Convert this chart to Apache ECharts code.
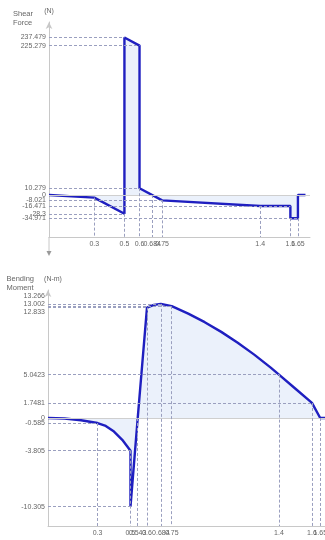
<!DOCTYPE html>
<html><head><meta charset="utf-8">
<script src="https://cdn.jsdelivr.net/npm/echarts@6/dist/echarts.min.js"></script>
<style>html,body{margin:0;padding:0;background:#fff}#c{width:325px;height:540px}</style>
</head><body><div id="c"></div>
<script>
// ---- Shear force data ----
const shearX = [0, 0.3, 0.5, 0.5, 0.6, 0.6, 0.75, 1.4, 1.6, 1.6, 1.65, 1.65, 1.7];
const shearV = [0, -3.9, -28.3, 237.479, 225.279, 10.279, -8.021, -16.471, -16.471, -34.971, -34.971, 0, 0];
const shearTickX = [0.3, 0.5, 0.6, 0.684, 0.75, 1.4, 1.6, 1.65];
const shearTickY = [237.479, 225.279, 10.279, 0, -8.021, -16.471, -28.3, -34.971];
const shearGuideH = [[237.479, 0.5], [225.279, 0.6], [10.279, 0.6], [-8.021, 0.75], [-16.471, 1.6], [-28.3, 0.5], [-34.971, 1.65]];
const shearGuideV = [[0.3, -3.9], [0.5, -28.3], [0.6, 10.279], [0.684, 0], [0.75, -8.021], [1.4, -16.471], [1.6, -34.971], [1.65, -34.971]];

// ---- Bending moment data ----
const momentX = [0, 0.1, 0.2, 0.3, 0.35, 0.4, 0.45, 0.5, 0.5, 0.543, 0.6, 0.642, 0.684, 0.75, 0.85, 0.95, 1.05, 1.15, 1.25, 1.35, 1.4, 1.5, 1.6, 1.65, 1.7];
const momentM = [0, -0.065, -0.26, -0.585, -0.93, -1.585, -2.54, -3.805, -10.305, -0.2, 12.833, 13.157, 13.266, 13.002, 12.135, 11.138, 10.011, 8.754, 7.366, 5.849, 5.0423, 3.395, 1.7481, 0, 0];
const momentTickX = [0.3, 0.5, 0.543, 0.6, 0.684, 0.75, 1.4, 1.6, 1.65];
const momentTickY = [13.266, 13.002, 12.833, 5.0423, 1.7481, 0, -0.585, -3.805, -10.305];
const momentGuideH = [[13.266, 0.684], [13.002, 0.75], [12.833, 0.6], [5.0423, 1.4], [1.7481, 1.6], [-0.585, 0.3], [-3.805, 0.5], [-10.305, 0.5]];
const momentGuideV = [[0.3, -0.585], [0.5, -3.805], [0.543, 0], [0.6, 12.833], [0.684, 13.266], [0.75, 13.002], [1.4, 5.0423], [1.6, 1.7481], [1.65, 0]];

const shearRange = { xMax: 1.73, yMin: -63.3, yMax: 260.9 };
const momentRange = { xMax: 1.679, yMin: -12.56, yMax: 14.88 };

const LABEL = '#666';
const AXIS = '#c8c8c8';
const GUIDE = '#9a9fbf';
const CURVE = '#1f1fc0';
const FILL = '#ebf1fb';
const FONT = 'Liberation Sans, Arial, sans-serif';

function pairs(xs, ys) { return xs.map((x, i) => [x, ys[i]]); }

function guideLines(hs, vs, yMin, xMax) {
  const d = [];
  d.push([{ coord: [0, 0], lineStyle: { type: 'solid', color: '#cfcfcf', width: 1 } }, { coord: [xMax, 0] }]);
  hs.forEach(h => d.push([{ coord: [0, h[0]] }, { coord: [h[1], h[0]] }]));
  vs.forEach(v => d.push([{ coord: [v[0], v[1]] }, { coord: [v[0], yMin] }]));
  return d;
}

// empty sentinel labels at the axis ends keep ECharts from hiding real end labels
function withEnds(vals, lo, hi) { return [lo].concat(vals, [hi]); }
function fmt(lo, hi) { return v => (v === lo || v === hi) ? '' : String(v); }

const momentLabelShift = { '13.266': 'a', '13.002': 'b', '12.833': 'c' };

const chart = echarts.init(document.getElementById('c'), null, { renderer: 'canvas' });
chart.setOption({
  animation: false,
  textStyle: { fontFamily: FONT },
  grid: [
    { left: 49, right: 325 - 49 - Math.round(shearRange.xMax * 150.6), top: 22, bottom: 540 - 237, outerBoundsMode: 'none', containLabel: false },
    { left: 48, right: 0, top: 290, bottom: 14, outerBoundsMode: 'none', containLabel: false }
  ],
  xAxis: [
    { gridIndex: 0, type: 'value', min: 0, max: shearRange.xMax,
      axisLine: { show: true, onZero: false, lineStyle: { color: AXIS } },
      axisTick: { show: false }, splitLine: { show: false },
      axisLabel: { customValues: withEnds(shearTickX, 0, shearRange.xMax), formatter: fmt(0, shearRange.xMax), fontSize: 7, color: LABEL, margin: 4, fontFamily: FONT, hideOverlap: false } },
    { gridIndex: 1, type: 'value', min: 0, max: momentRange.xMax,
      axisLine: { show: true, onZero: false, lineStyle: { color: AXIS } },
      axisTick: { show: false }, splitLine: { show: false },
      axisLabel: { customValues: withEnds(momentTickX, 0, momentRange.xMax), formatter: fmt(0, momentRange.xMax), fontSize: 7, color: LABEL, margin: 4, fontFamily: FONT, hideOverlap: false } }
  ],
  yAxis: [
    { gridIndex: 0, type: 'value', min: shearRange.yMin, max: shearRange.yMax,
      name: '(N)', nameLocation: 'end', nameGap: 7,
      nameTextStyle: { fontSize: 7, color: LABEL, fontFamily: FONT },
      axisLine: { show: true, onZero: false, lineStyle: { color: AXIS }, symbol: ['none', 'arrow'], symbolSize: [5, 7] },
      axisTick: { show: false }, splitLine: { show: false },
      axisLabel: { customValues: withEnds(shearTickY, shearRange.yMin, shearRange.yMax), formatter: fmt(shearRange.yMin, shearRange.yMax), fontSize: 7, color: LABEL, margin: 3, fontFamily: FONT, hideOverlap: false } },
    { gridIndex: 1, type: 'value', min: momentRange.yMin, max: momentRange.yMax,
      name: '(N-m)', nameLocation: 'end', nameGap: 7,
      nameTextStyle: { fontSize: 7, color: LABEL, fontFamily: FONT, padding: [0, 0, 0, 10] },
      axisLine: { show: true, onZero: false, lineStyle: { color: AXIS }, symbol: ['none', 'arrow'], symbolSize: [5, 7] },
      axisTick: { show: false }, splitLine: { show: false },
      axisLabel: { customValues: withEnds(momentTickY, momentRange.yMin, momentRange.yMax), fontSize: 7, color: LABEL, margin: 3, fontFamily: FONT, hideOverlap: false,
        formatter: v => {
          if (v === momentRange.yMin || v === momentRange.yMax) return '';
          const k = momentLabelShift[String(v)];
          return k ? '{' + k + '|' + v + '}' : String(v);
        },
        rich: {
          a: { fontSize: 7, color: LABEL, fontFamily: FONT, padding: [0, 0, 16, 0] },
          b: { fontSize: 7, color: LABEL, fontFamily: FONT, padding: [0, 0, 4, 0] },
          c: { fontSize: 7, color: LABEL, fontFamily: FONT, padding: [8, 0, 0, 0] }
        } } }
  ],
  graphic: [
    { type: 'text', right: 325 - 33, top: 9, style: { text: 'Shear\nForce', fontSize: 7.5, lineHeight: 9, fill: LABEL, align: 'right', fontFamily: FONT } },
    { type: 'text', right: 325 - 34, top: 274, style: { text: 'Bending\nMoment', fontSize: 7.5, lineHeight: 9, fill: LABEL, align: 'right', fontFamily: FONT } }
  ],
  series: [
    { type: 'line', xAxisIndex: 0, yAxisIndex: 0, data: [], z: 1, silent: true,
      markLine: { silent: true, symbol: ['none', 'none'], label: { show: false },
        lineStyle: { type: [3, 2], color: GUIDE, width: 1 },
        data: guideLines(shearGuideH, shearGuideV, shearRange.yMin, shearRange.xMax) } },
    { type: 'line', xAxisIndex: 0, yAxisIndex: 0, data: pairs(shearX, shearV), z: 3,
      symbol: 'none', lineStyle: { color: CURVE, width: 2.4 }, areaStyle: { color: FILL, opacity: 1 } },
    { type: 'line', xAxisIndex: 1, yAxisIndex: 1, data: [], z: 1, silent: true,
      markLine: { silent: true, symbol: ['none', 'none'], label: { show: false },
        lineStyle: { type: [3, 2], color: GUIDE, width: 1 },
        data: guideLines(momentGuideH, momentGuideV, momentRange.yMin, momentRange.xMax) } },
    { type: 'line', xAxisIndex: 1, yAxisIndex: 1, data: pairs(momentX, momentM), z: 3,
      symbol: 'none', lineStyle: { color: CURVE, width: 2.4 }, areaStyle: { color: FILL, opacity: 1 } }
  ]
});

// downward extension of the shear y axis below its x axis
const p = chart.convertToPixel({ gridIndex: 0 }, [0, shearRange.yMin]);
const g = chart.getOption().graphic[0].elements.slice();
chart.setOption({ graphic: [
  g[0], g[1],
  { type: 'line', shape: { x1: p[0], y1: p[1], x2: p[0], y2: p[1] + 15 }, style: { stroke: AXIS, lineWidth: 1 } },
  { type: 'polygon', shape: { points: [[p[0] - 2.5, p[1] + 14], [p[0] + 2.5, p[1] + 14], [p[0], p[1] + 19]] }, style: { fill: '#999' } }
] });
</script>
</body></html>
